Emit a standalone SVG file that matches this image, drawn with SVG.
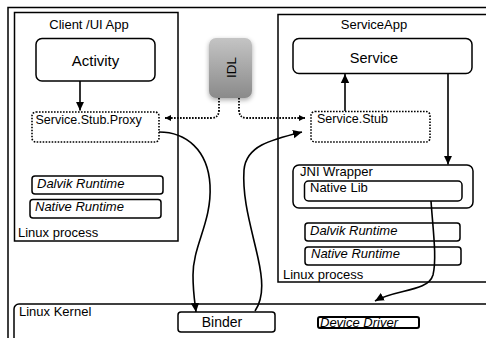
<svg xmlns="http://www.w3.org/2000/svg" width="486" height="338" viewBox="0 0 486 338">
  <style>
    .box { fill: #fff; stroke: #000; stroke-width: 1.5; }
    .frame { fill: none; stroke: #000; stroke-width: 1.5; }
    .dotted { fill: #fff; stroke: #000; stroke-width: 1.6; stroke-dasharray: 1.6 1.4; }
    .lbl { font-family: "Liberation Sans", Arial, sans-serif; font-size: 13px; fill: #000; }
    .it { font-style: italic; }
    .mid { text-anchor: middle; }
    .wire { fill: none; stroke: #000; stroke-width: 1.6; }
    .dots { fill: none; stroke: #000; stroke-width: 1.8; stroke-dasharray: 1.6 1.4; }
  </style>
  <defs>
    <marker id="arrow" markerUnits="userSpaceOnUse" markerWidth="10" markerHeight="10" refX="9" refY="5" orient="auto">
      <path d="M0,0.8 L9,5 L0,9.2 Z" fill="#000"/>
    </marker>
    <marker id="arrowSmall" markerUnits="userSpaceOnUse" markerWidth="7" markerHeight="7" refX="6" refY="3.5" orient="auto">
      <path d="M0,0.5 L6,3.5 L0,6.5 Z" fill="#000"/>
    </marker>
    <linearGradient id="idlFill" x1="0" y1="0" x2="0" y2="1">
      <stop offset="0" stop-color="#c4c4c4"/>
      <stop offset="1" stop-color="#8a8a8a"/>
    </linearGradient>
    <filter id="soft" x="-40%" y="-30%" width="180%" height="160%">
      <feGaussianBlur in="SourceAlpha" stdDeviation="2.5"/>
      <feOffset dx="0" dy="2" result="b"/>
      <feComponentTransfer><feFuncA type="linear" slope="0.35"/></feComponentTransfer>
      <feMerge><feMergeNode/><feMergeNode in="SourceGraphic"/></feMerge>
    </filter>
  </defs>

  <rect width="486" height="338" fill="#fff"/>

  <!-- device outline -->
  <path class="frame" d="M8,340 V7.5 H490"/>

  <!-- client process -->
  <g id="client-app">
    <rect class="frame" x="14.5" y="12.5" width="163.5" height="228.5"/>
    <text class="lbl mid" x="89" y="29">Client /UI App</text>
    <text class="lbl" x="18" y="237">Linux process</text>
  </g>
  <g id="activity">
    <rect class="box" x="36" y="38.5" width="119" height="42.5" rx="6"/>
    <text class="lbl mid" x="95.5" y="66" style="font-size:15px">Activity</text>
  </g>
  <g id="stub-proxy">
    <rect class="dotted" x="32" y="112" width="127" height="30" rx="4"/>
    <text class="lbl" x="35.5" y="124" style="font-size:12.5px">Service.Stub.Proxy</text>
  </g>
  <g id="client-dalvik">
    <rect class="box" x="32" y="176" width="131" height="18" rx="3"/>
    <text class="lbl it" x="37" y="188">Dalvik Runtime</text>
  </g>
  <g id="client-native">
    <rect class="box" x="30" y="199.5" width="131" height="18.5" rx="3"/>
    <text class="lbl it" x="35" y="211">Native Runtime</text>
  </g>

  <!-- interface definition -->
  <g id="idl">
    <rect x="209" y="38" width="43" height="60" rx="7" fill="url(#idlFill)" filter="url(#soft)"/>
    <text class="lbl mid" x="0" y="0" transform="translate(235.5,67.5) rotate(-90)" style="font-size:13.5px">IDL</text>
  </g>

  <!-- service process -->
  <g id="service-app">
    <rect class="frame" x="278" y="14.5" width="215" height="267.5"/>
    <text class="lbl mid" x="374" y="29">ServiceApp</text>
    <text class="lbl" x="283" y="279">Linux process</text>
  </g>
  <g id="service">
    <rect class="box" x="293" y="38.5" width="179" height="35" rx="6"/>
    <text class="lbl mid" x="374" y="63" style="font-size:14.5px">Service</text>
  </g>
  <g id="service-stub">
    <rect class="dotted" x="311" y="111.5" width="119" height="30.5" rx="4"/>
    <text class="lbl" x="317" y="123" style="font-size:12.5px">Service.Stub</text>
  </g>
  <g id="jni-wrapper">
    <rect class="box" x="293" y="165" width="180" height="43" rx="6"/>
    <text class="lbl" x="300" y="176">JNI Wrapper</text>
  </g>
  <g id="native-lib">
    <rect class="box" x="304.5" y="181" width="157.5" height="20" rx="4"/>
    <text class="lbl" x="310" y="192">Native Lib</text>
  </g>
  <g id="service-dalvik">
    <rect class="box" x="305" y="223" width="155" height="18" rx="3"/>
    <text class="lbl it" x="310" y="235">Dalvik Runtime</text>
  </g>
  <g id="service-native">
    <rect class="box" x="305" y="247" width="156" height="18" rx="3"/>
    <text class="lbl it" x="311" y="258">Native Runtime</text>
  </g>

  <!-- kernel -->
  <g id="linux-kernel">
    <rect class="frame" x="14" y="304" width="480" height="50" rx="5"/>
    <text class="lbl" x="19" y="316">Linux Kernel</text>
  </g>
  <g id="binder">
    <rect class="box" x="178" y="312" width="97" height="20" rx="3"/>
    <text class="lbl mid" x="222" y="327" style="font-size:14px">Binder</text>
  </g>
  <g id="device-driver">
    <rect class="box" x="318" y="317" width="101" height="11" rx="2" style="stroke-width:2"/>
    <text class="lbl it" x="320" y="327">Device Driver</text>
  </g>

  <!-- connectors -->
  <g id="connectors">
    <path class="wire" d="M80,81 V110.5" marker-end="url(#arrow)"/>
    <path class="wire" d="M345,111 V74" marker-end="url(#arrow)"/>
    <path class="wire" d="M448,73.5 V164.5" marker-end="url(#arrow)"/>
    <path class="dots" d="M219,98 V110 Q219,118 211,118 H165" marker-end="url(#arrowSmall)"/>
    <path class="dots" d="M239,98 V110 Q239,118 247,118 H305" marker-end="url(#arrowSmall)"/>
    <path class="wire" d="M159,132 C186,132 208,150 210,185 C212,222 193,245 193,275 C193,293 195,303 196,312" marker-end="url(#arrow)"/>
    <path class="wire" d="M255,311 C265,296 262,276 258,258 C252,230 242,200 244,170 C246,146 270,140 302,132" marker-end="url(#arrow)"/>
    <path class="wire" d="M431,201 C433,230 437,258 433,275 C428,292 396,289 375,301" marker-end="url(#arrow)"/>
  </g>
</svg>
